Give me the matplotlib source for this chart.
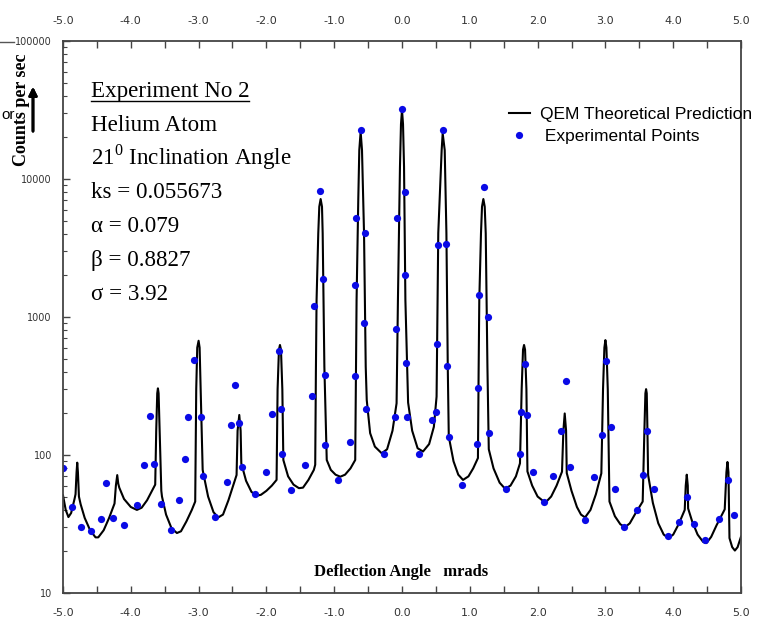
import matplotlib
matplotlib.use('Agg')
import matplotlib.pyplot as plt
from matplotlib.ticker import MultipleLocator, FixedLocator, LogLocator, FuncFormatter
from matplotlib.lines import Line2D

# theoretical curve (QEM prediction)
line_x = [-5.00, -4.96, -4.92, -4.88, -4.83, -4.815, -4.80, -4.79, -4.78, -4.765, -4.74, -4.68, -4.60, -4.52,
          -4.48, -4.40, -4.32, -4.24, -4.22, -4.20, -4.185, -4.17, -4.10, -4.00, -3.91, -3.84, -3.76, -3.68,
          -3.64, -3.625, -3.61, -3.60, -3.59, -3.575, -3.55, -3.54, -3.48, -3.40, -3.32, -3.26, -3.18, -3.10,
          -3.05, -3.035, -3.02, -3.00, -2.985, -2.97, -2.94, -2.93, -2.86, -2.78, -2.71, -2.64, -2.56, -2.48,
          -2.44, -2.425, -2.40, -2.38, -2.37, -2.30, -2.22, -2.14, -2.08, -2.00, -1.92, -1.85, -1.835, -1.815,
          -1.80, -1.785, -1.765, -1.75, -1.68, -1.60, -1.52, -1.46, -1.38, -1.30, -1.28, -1.27, -1.26, -1.235,
          -1.22, -1.20, -1.18, -1.17, -1.145, -1.11, -1.05, -0.98, -0.91, -0.84, -0.76, -0.69, -0.67, -0.645,
          -0.63, -0.61, -0.59, -0.56, -0.535, -0.52, -0.47, -0.40, -0.30, -0.22, -0.14, -0.08, -0.06, -0.03,
          -0.015, 0.00, 0.015, 0.03, 0.05, 0.09, 0.15, 0.23, 0.31, 0.40, 0.47, 0.51, 0.535, 0.585, 0.60, 0.63,
          0.655, 0.675, 0.69, 0.76, 0.83, 0.90, 0.98, 1.05, 1.12, 1.13, 1.14, 1.165, 1.18, 1.20, 1.22, 1.235,
          1.26, 1.28, 1.35, 1.44, 1.52, 1.60, 1.68, 1.74, 1.765, 1.785, 1.80, 1.815, 1.835, 1.85, 1.92, 2.00,
          2.08, 2.13, 2.20, 2.28, 2.36, 2.38, 2.40, 2.42, 2.43, 2.50, 2.58, 2.64, 2.70, 2.78, 2.86, 2.94, 2.965,
          2.985, 3.00, 3.015, 3.035, 3.06, 3.14, 3.22, 3.29, 3.36, 3.44, 3.55, 3.575, 3.59, 3.60, 3.61, 3.62,
          3.63, 3.70, 3.78, 3.86, 3.93, 4.00, 4.08, 4.17, 4.185, 4.20, 4.215, 4.22, 4.28, 4.36, 4.44, 4.49,
          4.56, 4.64, 4.72, 4.76, 4.785, 4.80, 4.815, 4.83, 4.87, 4.91, 4.95, 5.00]
line_y = [51, 40, 35.5, 38, 48, 52, 75, 88, 75, 50, 44, 35, 28.5, 25.3,
          25.3, 28.5, 35, 44.5, 60, 71.5, 62, 58, 48, 42, 40, 41.5, 47, 56,
          61, 150, 280, 304, 280, 150, 55, 50, 37, 29.5, 27.2, 28, 33, 40,
          46, 300, 600, 673, 600, 300, 78, 73.6, 50, 38.5, 35.3, 37, 47, 62,
          71.6, 150, 195, 150, 87, 65, 54, 50.7, 51.5, 55, 60, 66, 300, 580,
          627, 580, 300, 92, 70, 61, 57.5, 58, 66, 78, 85, 400, 1330, 4040,
          6300, 7160, 6300, 4040, 436, 92, 78, 72, 69.6, 72, 80, 92, 1328, 7040,
          16200, 22000, 16200, 4040, 436, 250, 144, 115, 103, 110, 150, 237, 1328, 12280,
          25000, 31600, 25000, 12280, 1328, 240, 150, 112, 106, 120, 160, 265, 4060, 16200, 21400, 16200,
          4060, 436, 136, 90, 72, 66, 70, 80, 95, 400, 1330, 4040, 6300, 7160, 6300, 4040,
          436, 110, 80, 63, 57, 60, 70, 87, 300, 580, 627, 580, 300, 76, 60, 50,
          46.5, 46, 50, 60, 75.7, 150, 200, 150, 74, 55, 42, 37, 35.3, 40, 52, 73.6, 300,
          600, 680, 600, 300, 46, 36, 31.5, 30, 32, 37.5, 46, 150, 280, 300, 280, 150,
          71.6, 45, 32, 26.5, 25, 26.5, 31.5, 40, 60, 72, 60, 41, 33, 26.5, 23.5, 23,
          25.5, 31, 37, 40.4, 75, 89, 75, 25, 21.5, 20.3, 21.5, 25.6]

# experimental points
exp_x = [-5.00, -4.86, -4.74, -4.59, -4.44, -4.36, -4.26, -4.10, -3.91, -3.80, -3.72, -3.66, -3.55, -3.41,
         -3.29, -3.20, -3.15, -3.07, -2.97, -2.93, -2.76, -2.58, -2.52, -2.47, -2.40, -2.36, -2.17, -2.01,
         -1.92, -1.82, -1.79, -1.77, -1.63, -1.43, -1.33, -1.30, -1.21, -1.17, -1.14, -1.13, -0.94, -0.76,
         -0.70, -0.70, -0.68, -0.61, -0.55, -0.56, -0.53, -0.26, -0.10, -0.09, -0.07, 0.00, 0.05, 0.05,
         0.06, 0.07, 0.25, 0.44, 0.50, 0.51, 0.53, 0.60, 0.65, 0.67, 0.70, 0.89, 1.11, 1.12, 1.13, 1.21,
         1.27, 1.28, 1.54, 1.74, 1.76, 1.81, 1.84, 1.93, 2.09, 2.23, 2.35, 2.42, 2.48, 2.70, 2.83, 2.95,
         3.01, 3.08, 3.14, 3.28, 3.46, 3.56, 3.62, 3.71, 3.93, 4.09, 4.21, 4.30, 4.47, 4.68, 4.81, 4.90]
exp_y = [80, 41.8, 30.2, 28, 34.4, 62.7, 35, 31.3, 43.4, 84, 192, 86.5, 44, 28.5,
         47, 94, 190, 488, 188, 70.5, 35.5, 63.4, 165, 320, 170, 82, 52.4, 75,
         197, 567, 214, 101.6, 55.7, 85, 268, 1208, 8190, 1885, 378, 117.5, 65.9, 124,
         372, 1698, 5250, 22650, 4040, 910, 214, 102, 190, 819, 5190, 32150, 8010, 2005,
         464, 190, 102, 179, 206, 641, 3340, 22540, 3400, 440, 136, 60.6, 120, 305, 1440, 8700,
         1000, 144, 56.4, 101.7, 205, 460, 195, 75, 45.4, 70.5, 150, 345, 81.5, 33.8, 68.9, 140,
         480, 158.7, 57, 30.2, 40, 71.6, 150, 56.4, 25.9, 32.5, 49.4, 31.6, 24.2, 34.5, 65.9, 36.7]

x_ticks = [-5.0, -4.0, -3.0, -2.0, -1.0, 0.0, 1.0, 2.0, 3.0, 4.0, 5.0]
y_ticks = [10, 100, 1000, 10000, 100000]

info_lines = ['Helium Atom', '21$^{\\mathrm{0}}$ Inclination Angle', 'ks = 0.055673',
              '\u03b1 = 0.079', '\u03b2 = 0.8827', '\u03c3 = 3.92']

plt.rcParams['mathtext.fontset'] = 'custom'
plt.rcParams['mathtext.rm'] = 'Liberation Serif'

W, H = 763, 622
fig = plt.figure(figsize=(W / 100, H / 100), dpi=100)
ax = fig.add_axes([63 / W, 1 - 593 / H, (741 - 63) / W, (593 - 41) / H])

ax.plot(line_x, line_y, color='black', lw=1.5, label='QEM Theoretical Prediction')
ax.plot(exp_x, exp_y, 'o', color='#0a0ae6', ms=5.2, mec='none', label=' Experimental Points')

ax.set_yscale('log')
ax.set_xlim(-5, 5)
ax.set_ylim(10, 100000)

narrow = ['Liberation Sans Narrow', 'DejaVu Sans']
ax.xaxis.set_major_locator(FixedLocator(x_ticks))
ax.xaxis.set_minor_locator(MultipleLocator(0.5))
ax.xaxis.set_major_formatter(FuncFormatter(lambda v, p: '%.1f' % v))
ax.yaxis.set_major_locator(FixedLocator(y_ticks))
ax.yaxis.set_minor_locator(LogLocator(base=10, subs=range(2, 10)))
ax.yaxis.set_major_formatter(FuncFormatter(lambda v, p: '%d' % v))
ax.yaxis.set_minor_formatter(FuncFormatter(lambda v, p: ''))

ax.tick_params(axis='x', which='both', direction='in', top=True, labeltop=True, length=5,
               width=1, color='#444444', pad=11)
ax.tick_params(axis='y', which='major', direction='in', length=5, width=1, color='#444444', pad=8)
ax.tick_params(axis='y', which='minor', direction='in', length=3, width=0.8, color='#444444')
for lab in ax.get_xticklabels() + ax.get_yticklabels():
    lab.set_fontfamily(narrow)
    lab.set_color('#333333')
for lab in ax.get_xticklabels():
    lab.set_fontsize(8)
for lab in ax.get_yticklabels():
    lab.set_fontsize(7)
for sp in ax.spines.values():
    sp.set_color('#444444')
    sp.set_linewidth(1.3)

# text block
serif = ['Liberation Serif', 'DejaVu Serif']
fig.text(91 / W, 1 - 97 / H, 'Experiment No 2', family=serif, size=16.6, va='baseline')
fig.add_artist(Line2D([91 / W, 249 / W], [1 - 101 / H, 1 - 101 / H], color='black', lw=1))
for i, s in enumerate(info_lines):
    fig.text(91 / W, 1 - (131 + 33.7 * i) / H, s, family=serif, size=16.6, va='baseline')

# axis labels
fig.text(22 / W, 1 - 110 / H, 'Counts per sec', family=serif, weight='bold', size=13,
         rotation=90, ha='center', va='center')
fig.add_artist(plt.annotate('', xy=(33 / W, 1 - 84 / H), xytext=(33 / W, 1 - 134 / H),
                            xycoords='figure fraction',
                            arrowprops=dict(arrowstyle='-|>', color='black', lw=2, mutation_scale=12)))
fig.text(401 / W, 1 - 572 / H, 'Deflection Angle   mrads', family=serif, weight='bold', size=12,
         ha='center', va='center')

leg = ax.legend(loc='upper left', bbox_to_anchor=(500 / W, 1 - 98 / H), bbox_transform=fig.transFigure,
                frameon=False, handlelength=1.2, handletextpad=0.6, labelspacing=0.38, borderpad=0,
                prop=dict(family=['Liberation Sans', 'DejaVu Sans'], size=12.5))

# cropped remnants of the neighbouring figure on the left edge
fig.text(1 / W, 1 - 115 / H, 'or', family=['Liberation Sans', 'DejaVu Sans'], size=11, va='center')
fig.add_artist(Line2D([0, 14 / W], [1 - 42 / H, 1 - 42 / H], color='#555555', lw=1))

fig.savefig('out.png', dpi=100)
